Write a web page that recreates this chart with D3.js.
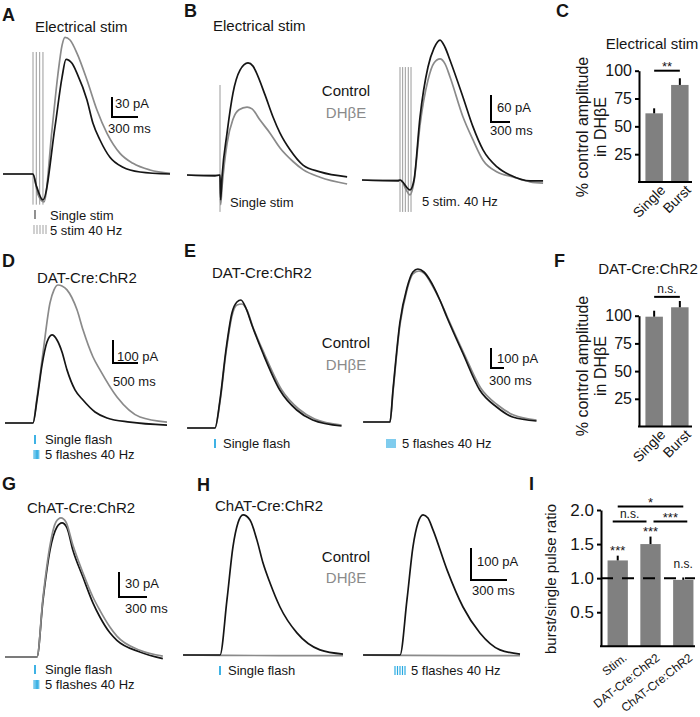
<!DOCTYPE html>
<html>
<head>
<meta charset="utf-8">
<script src="https://cdn.jsdelivr.net/npm/d3@7"></script>
<style>
  body { margin: 0; background: #fff; }
  svg { display: block; }
</style>
</head>
<body>
<div id="fig"></div>
<script>
// ---- traces: [time in ms from first stimulus, current in pA] ----
const aSingle = [[-346,0],[0,0],[35,-16],[115,-39],[254,71],[335,145],[381,172],[450,166],[508,151],[623,111],[692,76],[773,51],[888,25],[1038,10],[1235,3],[1581,0]];
const aBurst  = [[-346,0],[0,0],[58,-31],[127,-42],[219,66],[288,150],[335,193],[369,205],[427,201],[508,181],[623,141],[738,96],[854,61],[1004,31],[1154,16],[1350,6],[1581,1]];
const aStims  = [0, 38, 77, 115];

const bSingleCtrl = [[-521,0],[-79,-2],[0,0],[10,-55],[32,-4],[111,93],[205,182],[316,233],[442,249],[521,242],[569,229],[711,178],[837,129],[948,93],[1106,56],[1311,22],[1580,7],[2007,-4]];
const bSingleDhbe = [[-521,0],[0,0],[10,-66],[32,-27],[111,70],[205,124],[300,145],[427,151],[506,147],[632,122],[790,93],[948,60],[1153,30],[1311,12],[1580,-5],[2007,-20]];
const bBurstCtrl  = [[-600,0],[-32,-2],[0,0],[158,-22],[221,0],[316,140],[442,251],[537,293],[632,311],[711,295],[790,266],[995,184],[1153,118],[1311,67],[1533,29],[1738,11],[2054,-2],[2259,-2]];
const bBurstDhbe  = [[-600,0],[0,0],[158,-33],[221,-4],[316,122],[442,222],[537,260],[632,269],[711,258],[790,229],[995,140],[1153,89],[1311,44],[1533,18],[1785,7],[2054,-4],[2259,-7]];
const bSingleStims = [0];
const bBurstStims  = [0, 42, 84, 131, 174];

const dSingle = [[-560,0],[0,0],[80,100],[180,252],[280,352],[380,383],[480,361],[580,309],[680,231],[840,144],[1000,100],[1240,48],[1480,22],[1940,4],[2680,-9]];
const dBurst  = [[-560,0],[0,0],[80,109],[200,305],[340,522],[420,579],[500,600],[580,596],[680,579],[880,492],[1000,405],[1200,287],[1340,231],[1680,113],[2140,26],[2680,4]];

const eSingleCtrl = [[-644,0],[0,0],[115,140],[253,390],[391,575],[506,630],[598,640],[713,600],[851,515],[1104,375],[1495,190],[1886,90],[2254,40],[2921,10]];
const eSingleDhbe = [[-644,0],[0,0],[115,130],[253,375],[391,560],[506,615],[621,620],[736,590],[874,505],[1150,365],[1541,190],[1932,95],[2300,45],[2921,15]];
const eBurstCtrl  = [[-621,0],[0,0],[69,160],[230,500],[391,670],[529,750],[644,765],[782,750],[920,710],[1150,610],[1311,525],[1679,345],[2070,160],[2461,75],[2829,25],[3381,5]];
const eBurstDhbe  = [[-621,0],[0,0],[69,150],[230,485],[391,660],[529,740],[667,755],[805,740],[943,695],[1173,600],[1334,520],[1702,345],[2093,170],[2484,85],[2852,35],[3381,10]];

const gSingle = [[-342,0],[0,0],[64,68],[139,128],[214,156],[268,161],[321,155],[385,128],[492,96],[599,65],[674,48],[781,29],[856,20],[1102,6],[1348,-2]];
const gBurst  = [[-342,0],[0,0],[64,71],[139,134],[203,162],[257,167],[310,162],[385,134],[492,101],[599,72],[674,56],[781,36],[856,25],[1102,8],[1348,1]];

const hSingleCtrl = [[-308,0],[0,0],[58,172],[108,338],[150,413],[192,438],[250,422],[308,359],[358,288],[417,225],[500,150],[641,69],[833,16],[1025,3]];
const hSingleDhbe = [[-308,0],[0,-1],[500,-2],[1025,-2]];
const hBurstCtrl  = [[-308,0],[0,0],[58,172],[108,338],[150,413],[192,438],[233,428],[275,391],[392,266],[525,150],[666,69],[833,16],[1000,3]];
const hBurstDhbe  = [[-308,0],[0,-1],[500,-2],[1000,-2]];

// scale bars [pA, ms]
const scaleBarA = [30, 300];
const scaleBarB = [60, 300];
const scaleBarD = [100, 500];
const scaleBarE = [100, 300];
const scaleBarG = [30, 300];
const scaleBarH = [100, 300];

// ---- bar charts ----
const ampCategories = ["Single", "Burst"];
const cMeans = [61.7, 87.2];
const cSem   = [4.5, 6.0];
const fMeans = [99.1, 107.6];
const fSem   = [5.4, 5.7];
const ampTicks = [25, 50, 75, 100];

const ratioCategories = ["Stim.", "DAT-Cre:ChR2", "ChAT-Cre:ChR2"];
const ratioMeans = [1.26, 1.50, 0.975];
const ratioSem   = [0.07, 0.11, 0.035];
const ratioTicks = [0.5, 1.0, 1.5, 2.0];
const ratioStars = ["***", "***", "n.s."];

const FONT = '"Liberation Sans", Arial, Helvetica, sans-serif';
const BLACK = "#151515", GRAY = "#8a8a8a", CYAN = "#2aaae2", BAR = "#808080";

const svg = d3.select("#fig").append("svg")
  .attr("width", 700).attr("height", 717)
  .style("font-family", FONT);

function txt(x, y, s, o = {}) {
  return svg.append("text").attr("x", x).attr("y", y).text(s)
    .attr("font-size", o.size || 15)
    .attr("fill", o.fill || BLACK)
    .attr("font-weight", o.weight || null)
    .attr("text-anchor", o.anchor || "start");
}

// panel letters
[["A",2,21],["B",184,17],["C",556,17],["D",2,267],["E",184,257],["F",554,267],["G",2,490],["H",197,491],["I",529,490]]
  .forEach(l => txt(l[1], l[2], l[0], {size: 18, weight: "bold"}));

// ---- trace helpers ----
function traceScales(x0, y0, sb, pAPx, msPx) {
  return {
    x: d3.scaleLinear().domain([0, sb[1]]).range([x0, x0 + msPx]),
    y: d3.scaleLinear().domain([0, sb[0]]).range([y0, y0 - pAPx])
  };
}

function drawTrace(sc, data, color) {
  const line = d3.line().x(d => sc.x(d[0])).y(d => sc.y(d[1])).curve(d3.curveMonotoneX);
  svg.append("path").datum(data)
    .attr("fill", "none").attr("stroke", color).attr("stroke-width", 1.7)
    .attr("stroke-linejoin", "round").attr("d", line);
}

function drawStims(sc, times, top, bottom) {
  svg.append("g").selectAll("line").data(times).join("line")
    .attr("x1", t => sc.x(t)).attr("x2", t => sc.x(t))
    .attr("y1", sc.y(top)).attr("y2", sc.y(bottom))
    .attr("stroke", "#9a9a9a").attr("stroke-width", 1);
}

function scaleBar(sc, sb, cx, cy, pALab, msLab) {
  const h = sc.y(0) - sc.y(sb[0]);
  const w = sc.x(sb[1]) - sc.x(0);
  svg.append("path").attr("d", `M${cx},${cy - h}V${cy}H${cx + w}`)
    .attr("fill", "none").attr("stroke", "#000").attr("stroke-width", 2);
  txt(pALab[0], pALab[1], sb[0] + " pA", {size: 13});
  txt(msLab[0], msLab[1], sb[1] + " ms", {size: 13});
}

function marks(x, y, n, gap, color, h = 9, w = 1.2) {
  for (let i = 0; i < n; i++) {
    svg.append("line").attr("x1", x + i * gap).attr("x2", x + i * gap)
      .attr("y1", y - h).attr("y2", y).attr("stroke", color).attr("stroke-width", w);
  }
}

// ---- A ----
const scA = traceScales(33, 174, scaleBarA, 20, 26);
txt(35, 32, "Electrical stim");
drawStims(scA, aStims, 183, -46);
drawTrace(scA, aBurst, GRAY);
drawTrace(scA, aSingle, BLACK);
scaleBar(scA, scaleBarA, 112, 117, [115, 108], [108, 133]);
marks(35, 219, 1, 0, "#555", 9, 1.3);
txt(50, 220, "Single stim", {size: 13});
marks(34, 234, 5, 3, "#aaa", 9, 1.1);
txt(50, 235, "5 stim 40 Hz", {size: 13});

// ---- B ----
const scB1 = traceScales(220, 175, scaleBarB, 27, 19);
const scB2 = traceScales(400, 180, scaleBarB, 27, 19);
txt(213, 31, "Electrical stim");
drawStims(scB1, bSingleStims, 200, -82);
drawTrace(scB1, bSingleDhbe, GRAY);
drawTrace(scB1, bSingleCtrl, BLACK);
drawStims(scB2, bBurstStims, 251, -71);
drawTrace(scB2, bBurstDhbe, GRAY);
drawTrace(scB2, bBurstCtrl, BLACK);
txt(346, 96, "Control", {anchor: "middle"});
txt(346, 118, "DHβE", {anchor: "middle", fill: GRAY});
scaleBar(scB1, scaleBarB, 491, 122, [497, 112], [490, 135]);
txt(230, 207, "Single stim", {size: 13});
txt(422, 206, "5 stim. 40 Hz", {size: 13});

// ---- D ----
const scD = traceScales(33, 423, scaleBarD, 23, 25);
txt(37, 283, "DAT-Cre:ChR2");
drawTrace(scD, dBurst, GRAY);
drawTrace(scD, dSingle, BLACK);
scaleBar(scD, scaleBarD, 113, 363, [117, 361], [113, 386]);
marks(35, 444, 1, 0, CYAN, 9, 1.8);
txt(45, 444, "Single flash", {size: 13});
marks(34, 459, 5, 1.2, CYAN, 9, 1);
txt(45, 459, "5 flashes 40 Hz", {size: 13});

// ---- E ----
const scE1 = traceScales(215, 428, scaleBarE, 20, 13);
const scE2 = traceScales(390, 422, scaleBarE, 20, 13);
txt(212, 278, "DAT-Cre:ChR2");
drawTrace(scE1, eSingleDhbe, GRAY);
drawTrace(scE1, eSingleCtrl, BLACK);
drawTrace(scE2, eBurstDhbe, GRAY);
drawTrace(scE2, eBurstCtrl, BLACK);
txt(346, 348, "Control", {anchor: "middle"});
txt(346, 370, "DHβE", {anchor: "middle", fill: GRAY});
scaleBar(scE1, scaleBarE, 491, 368, [497, 363], [489, 385]);
marks(215, 448, 1, 0, CYAN, 9, 1.8);
txt(223, 448, "Single flash", {size: 13});
marks(387, 448, 5, 2, CYAN, 9, 1.2);
txt(402, 448, "5 flashes 40 Hz", {size: 13});

// ---- G ----
const scG = traceScales(37, 657, scaleBarG, 25, 28);
txt(27, 513, "ChAT-Cre:ChR2");
drawTrace(scG, gSingle, BLACK);
drawTrace(scG, gBurst, GRAY);
scaleBar(scG, scaleBarG, 119, 597, [125, 588], [125, 613]);
marks(35, 674, 1, 0, CYAN, 9, 1.8);
txt(45, 674, "Single flash", {size: 13});
marks(34, 689, 5, 1.2, CYAN, 9, 1);
txt(45, 689, "5 flashes 40 Hz", {size: 13});

// ---- H ----
const scH1 = traceScales(220, 655, scaleBarH, 32, 36);
const scH2 = traceScales(400, 655, scaleBarH, 32, 36);
txt(215, 511, "ChAT-Cre:ChR2");
drawTrace(scH1, hSingleDhbe, GRAY);
drawTrace(scH1, hSingleCtrl, BLACK);
drawTrace(scH2, hBurstDhbe, GRAY);
drawTrace(scH2, hBurstCtrl, BLACK);
txt(346, 562, "Control", {anchor: "middle"});
txt(346, 583, "DHβE", {anchor: "middle", fill: GRAY});
scaleBar(scH1, scaleBarH, 471, 580, [477, 566], [472, 595]);
marks(220, 675, 1, 0, CYAN, 9, 1.8);
txt(228, 675, "Single flash", {size: 13});
marks(395, 675, 5, 2.5, CYAN, 9, 1.2);
txt(411, 675, "5 flashes 40 Hz", {size: 13});

// ---- bar chart helper ----
function barPanel(cfg) {
  const x = d3.scaleBand().domain(cfg.cats).range(cfg.xr)
    .paddingInner(cfg.pi).paddingOuter(cfg.po);
  const y = d3.scaleLinear().domain(cfg.yd).range(cfg.yr);
  const cx = c => x(c) + x.bandwidth() / 2;
  const g = svg.append("g");

  g.selectAll("rect").data(cfg.cats).join("rect")
    .attr("x", c => x(c)).attr("width", x.bandwidth())
    .attr("y", (c, i) => y(cfg.means[i]))
    .attr("height", (c, i) => y(0) - y(cfg.means[i]))
    .attr("fill", BAR);

  g.selectAll("line.err").data(cfg.cats).join("line").attr("class", "err")
    .attr("x1", cx).attr("x2", cx)
    .attr("y1", (c, i) => y(cfg.means[i]))
    .attr("y2", (c, i) => y(cfg.means[i] + cfg.sems[i]))
    .attr("stroke", "#000").attr("stroke-width", 2);

  const ya = g.append("g").attr("transform", `translate(${cfg.xr[0]},0)`)
    .call(d3.axisLeft(y).tickValues(cfg.ticks).tickFormat(cfg.fmt)
      .tickSize(4).tickPadding(3).tickSizeOuter(0));
  ya.attr("font-family", FONT).attr("font-size", cfg.tickSize);
  ya.select(".domain").attr("stroke-width", 2);
  ya.selectAll(".tick line").attr("stroke-width", 2);
  ya.selectAll(".tick text").attr("fill", BLACK);

  g.append("line").attr("x1", cfg.xr[0] - 1).attr("x2", cfg.xEnd)
    .attr("y1", y(0)).attr("y2", y(0)).attr("stroke", "#000").attr("stroke-width", 2);

  g.selectAll("text.xl").data(cfg.cats).join("text").attr("class", "xl")
    .attr("transform", c => `translate(${cx(c) + cfg.labDx},${y(0) + cfg.labDy}) rotate(${cfg.angle})`)
    .attr("text-anchor", "end").attr("font-size", cfg.labSize).attr("fill", BLACK)
    .text(c => c);

  (cfg.sig || []).forEach(s => {
    const x1 = cx(cfg.cats[s.pair[0]]) + (s.trim ? s.trim[0] : 0);
    const x2 = cx(cfg.cats[s.pair[1]]) + (s.trim ? s.trim[1] : 0);
    const yy = y(s.level);
    g.append("line").attr("x1", x1).attr("x2", x2).attr("y1", yy).attr("y2", yy)
      .attr("stroke", "#000").attr("stroke-width", 2);
    const star = s.label.startsWith("*");
    g.append("text").attr("x", (x1 + x2) / 2).attr("y", star ? yy : yy - 4)
      .attr("text-anchor", "middle").attr("font-size", star ? 13 : 12)
      .attr("fill", BLACK).text(s.label);
  });

  (cfg.top || []).forEach((lab, i) => {
    const star = lab.startsWith("*");
    const yy = y(cfg.means[i] + cfg.sems[i]);
    g.append("text").attr("x", cx(cfg.cats[i])).attr("y", star ? yy - 1 : yy - 9)
      .attr("text-anchor", "middle").attr("font-size", star ? 13 : 12)
      .attr("fill", BLACK).text(lab);
  });
  return {x, y};
}

function yTitle(x, y, s, size) {
  svg.append("text").attr("transform", `translate(${x},${y}) rotate(-90)`)
    .attr("text-anchor", "middle").attr("font-size", size).attr("fill", BLACK).text(s);
}

// ---- C ----
txt(652, 49, "Electrical stim", {anchor: "middle"});
barPanel({
  cats: ampCategories, means: cMeans, sems: cSem,
  xr: [639, 695], pi: 0.32, po: 0.25, xEnd: 692,
  yd: [0, 100], yr: [182, 70.7], ticks: ampTicks, fmt: d3.format("d"), tickSize: 16,
  labDx: 12, labDy: 9, angle: -45, labSize: 14,
  sig: [{pair: [0, 1], level: 100, label: "**"}]
});
yTitle(588, 127, "% control amplitude", 16);
yTitle(606, 127, "in DHβE", 16);

// ---- F ----
txt(648, 274, "DAT-Cre:ChR2", {anchor: "middle"});
barPanel({
  cats: ampCategories, means: fMeans, sems: fSem,
  xr: [639, 695], pi: 0.32, po: 0.25, xEnd: 692,
  yd: [0, 100], yr: [426.5, 315.7], ticks: ampTicks, fmt: d3.format("d"), tickSize: 16,
  labDx: 12, labDy: 9, angle: -45, labSize: 14,
  sig: [{pair: [0, 1], level: 117, label: "n.s."}]
});
yTitle(588, 366, "% control amplitude", 16);
yTitle(606, 366, "in DHβE", 16);

// ---- I ----
const iAx = barPanel({
  cats: ratioCategories, means: ratioMeans, sems: ratioSem,
  xr: [601, 700], pi: 0.38, po: 0.2, xEnd: 695,
  yd: [0, 2], yr: [646.3, 510], ticks: ratioTicks, fmt: d3.format(".1f"), tickSize: 17,
  labDx: 10, labDy: 13, angle: -38, labSize: 12,
  sig: [
    {pair: [0, 2], level: 2.05, label: "*"},
    {pair: [0, 1], level: 1.83, label: "n.s.", trim: [-5, -4]},
    {pair: [1, 2], level: 1.83, label: "***", trim: [3, 4]}
  ],
  top: ratioStars
});
svg.append("line").attr("x1", 601).attr("x2", 695)
  .attr("y1", iAx.y(1)).attr("y2", iAx.y(1))
  .attr("stroke", "#000").attr("stroke-width", 2).attr("stroke-dasharray", "12,9");
yTitle(556, 579, "burst/single pulse ratio", 15);
</script>
</body>
</html>
